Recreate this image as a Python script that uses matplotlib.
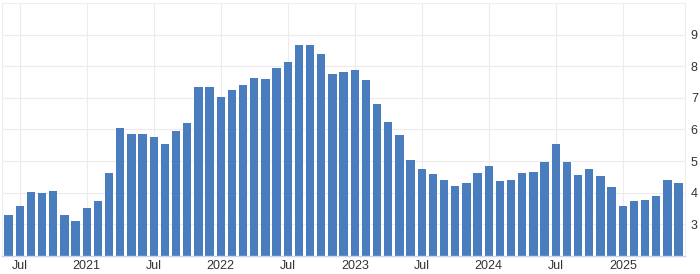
import matplotlib
matplotlib.use("Agg")
import matplotlib.pyplot as plt
import numpy as np
import pandas as pd

start_month = "2020-06"
values = [3.29, 3.59, 4.02, 3.98, 4.05, 3.29, 3.10, 3.51, 3.73, 4.62,
          6.04, 5.85, 5.85, 5.77, 5.54, 5.96, 6.20, 7.34, 7.34, 7.04,
          7.26, 7.41, 7.64, 7.60, 7.96, 8.13, 8.67, 8.67, 8.38, 7.77,
          7.81, 7.88, 7.58, 6.82, 6.23, 5.82, 5.03, 4.76, 4.60, 4.40,
          4.22, 4.31, 4.62, 4.85, 4.36, 4.39, 4.62, 4.66, 4.96, 5.55,
          4.96, 4.55, 4.74, 4.52, 4.17, 3.57, 3.74, 3.77, 3.89, 4.39,
          4.31]
months = pd.date_range(start_month, periods=len(values), freq="MS")
y_ticks = [3, 4, 5, 6, 7, 8, 9]

plt.rcParams['font.family'] = ['Liberation Sans', 'DejaVu Sans']

fig = plt.figure(figsize=(7.0, 2.74), dpi=100)
ax = fig.add_axes([0.003, 0.066, 0.976, 0.923])

x = np.arange(len(values))
ax.bar(x, values, width=0.75, color="#4a7dbd", zorder=2)

tick_idx = [i for i, m in enumerate(months) if m.month in (1, 7)]
tick_lab = [str(m.year) if m.month == 1 else "Jul" for m in months[tick_idx]]
ax.set_xticks(tick_idx)
ax.set_xticklabels(tick_lab)
ax.set_xlim(-0.58, len(values) - 0.4)

ax.set_ylim(2, 10)
ax.set_yticks(y_ticks)
ax.yaxis.tick_right()

ax.grid(True, color="#ececec", linewidth=0.8, zorder=0)
for s in ["top", "left", "right"]:
    ax.spines[s].set_color("#eeeeee")
    ax.spines[s].set_linewidth(0.8)
ax.spines["bottom"].set_color("#ccd6eb")
ax.spines["bottom"].set_linewidth(1.0)

ax.tick_params(axis="both", length=0, labelsize=9, colors="#333333")
ax.tick_params(axis="x", pad=3)
ax.tick_params(axis="y", pad=4)

fig.savefig("out.png", dpi=100, facecolor="white")
